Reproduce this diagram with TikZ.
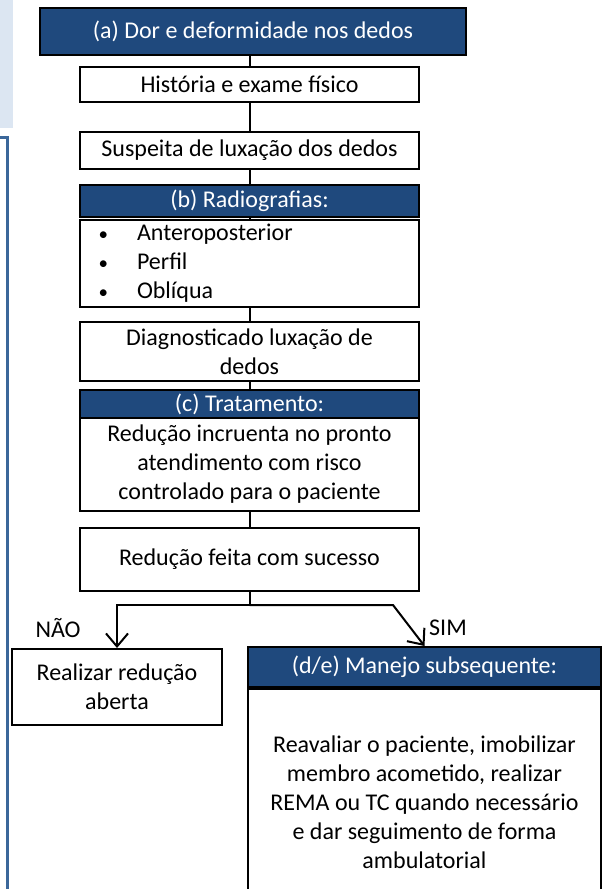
\documentclass[tikz,border=0pt]{standalone}
\usepackage{fontspec}
\setmainfont{Carlito}
\usetikzlibrary{arrows.meta,positioning}

\definecolor{hdrblue}{HTML}{1F497D}
\definecolor{barblue}{HTML}{3B679A}
\definecolor{panelblue}{HTML}{DCE6F2}

\newcommand{\listbullet}{\hspace*{18.5pt}\makebox[38.5pt][l]{\fontsize{19}{19}\selectfont\textbullet}}

\begin{document}
\begin{tikzpicture}[x=1pt, y=-1pt,
  box/.style={draw, line width=2pt, fill=white, inner sep=0pt, align=center,
    font=\fontsize{24}{29}\selectfont},
  hdr/.style={box, fill=hdrblue, text=white},
  lbl/.style={inner sep=0pt, font=\fontsize{24}{29}\selectfont},
  link/.style={line width=2pt},
  arr/.style={line width=2pt, -{Straight Barb[length=13pt,width=22pt]}}]

  \useasboundingbox (0,0) rectangle (607,889);

  % Light panel and blue frame on the left
  \fill[panelblue] (0,0) rectangle (13,128);
  \draw[barblue, line width=3pt] (0,137.5) -- (7.6,137.5) -- (7.6,900);

  % Main column
  \node[hdr, minimum width=426, minimum height=47] (dor) at (253,31.5)
    {(a) Dor e deformidade nos dedos};
  \node[box, minimum width=339, minimum height=35] (hist) at (249.5,84.5)
    {História e exame físico};
  \node[box, minimum width=339, minimum height=37] (susp) at (249.5,150.5)
    {Suspeita de luxação dos dedos};
  \node[hdr, minimum width=339, minimum height=32] (radio) at (249.5,201)
    {(b) Radiografias:};
  \node[box, text width=339pt, minimum height=87, align=left] (incid) at (249.5,263.5)
    {\listbullet Anteroposterior\\
     \listbullet Perfil\\
     \listbullet Oblíqua};
  \node[box, minimum width=339, minimum height=59] (diag) at (249.5,351.5)
    {Diagnosticado luxação de\\dedos};
  \node[hdr, minimum width=339, minimum height=28] (trat) at (249.5,404)
    {(c) Tratamento:};
  \node[box, minimum width=339, minimum height=93] (incr) at (249.5,464.5)
    {Redução incruenta no pronto\\atendimento com risco\\controlado para o paciente};
  \node[box, minimum width=339, minimum height=63] (suc) at (249.5,559.5)
    {Redução feita com sucesso};

  % Outcomes
  \node[box, minimum width=210, minimum height=76] (aberta) at (117,687)
    {Realizar redução\\aberta};
  \node[hdr, minimum width=353, minimum height=40] (manejo) at (424.5,667)
    {(d/e) Manejo subsequente:};
  \node[box, minimum width=353, minimum height=226, anchor=north] (seg) at (manejo.south)
    {Reavaliar o paciente, imobilizar\\membro acometido, realizar\\REMA ou TC quando necessário\\e dar seguimento de forma\\ambulatorial};

  % Connectors
  \draw[link] (hist.north) -- (hist.north |- dor.south);
  \draw[link] (hist) -- (susp);
  \draw[link] (susp) -- (radio);
  \draw[link] (radio) -- (incid);
  \draw[link] (incid) -- (diag);
  \draw[link] (diag) -- (trat);
  \draw[link] (incr) -- (suc);

  % Split after reduction
  \coordinate (split) at (249.5,605);
  \coordinate (knee) at (393,605);
  \draw[link] (suc) -- (split);
  \draw[arr] (split) -| (aberta.north);
  \draw[arr] (split) -- (knee) -- (manejo.north);

  \node[lbl] (nao) at (58,628) {NÃO};
  \node[lbl] (sim) at (448,628) {SIM};

\end{tikzpicture}
\end{document}
